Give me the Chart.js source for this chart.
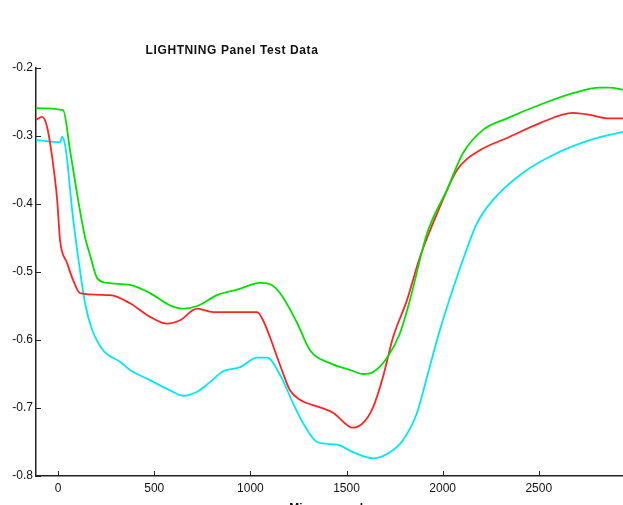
<!DOCTYPE html>
<html>
<head>
<meta charset="utf-8">
<script src="https://cdn.jsdelivr.net/npm/chart.js@4/dist/chart.umd.min.js"></script>
<style>
  html, body { margin: 0; padding: 0; background: #fff; overflow: hidden; }
  canvas { display: block; }
</style>
</head>
<body>
<canvas id="lightning-chart" width="623" height="516"></canvas>
<script>
// data (microseconds, volts)

const chartTitle = 'LIGHTNING Panel Test Data';
const xTitle = 'Microseconds';
const xTicks = [0, 500, 1000, 1500, 2000, 2500];
const yTicks = [-0.2, -0.3, -0.4, -0.5, -0.6, -0.7, -0.8];

const greenTime = [-114, 26, 62, 104, 140, 166, 203, 255, 374, 478, 582, 650, 723, 827, 931, 1050, 1102, 1154, 1243, 1310, 1414, 1518, 1586, 1638, 1711, 1778, 1830, 1919, 2023, 2106, 2210, 2335, 2506, 2678, 2818, 2870, 2938];
const greenVal = [-0.259, -0.262, -0.321, -0.394, -0.449, -0.475, -0.509, -0.516, -0.519, -0.531, -0.549, -0.554, -0.550, -0.534, -0.526, -0.516, -0.518, -0.531, -0.575, -0.615, -0.634, -0.644, -0.650, -0.647, -0.626, -0.590, -0.541, -0.443, -0.379, -0.325, -0.291, -0.274, -0.254, -0.237, -0.229, -0.229, -0.232];

const redTime = [-114, -83, -57, -31, -5, 10, 47, 78, 114, 270, 374, 478, 567, 634, 723, 806, 946, 1035, 1066, 1102, 1139, 1170, 1206, 1258, 1362, 1430, 1534, 1586, 1638, 1690, 1742, 1815, 1882, 1986, 2075, 2194, 2335, 2506, 2678, 2766, 2855, 2938];
const redVal = [-0.276, -0.272, -0.287, -0.331, -0.394, -0.453, -0.487, -0.512, -0.531, -0.534, -0.546, -0.566, -0.576, -0.571, -0.554, -0.559, -0.559, -0.559, -0.571, -0.596, -0.625, -0.649, -0.674, -0.688, -0.699, -0.707, -0.729, -0.722, -0.699, -0.654, -0.596, -0.541, -0.478, -0.404, -0.350, -0.321, -0.303, -0.281, -0.266, -0.269, -0.274, -0.274];

const cyanTime = [-114, 10, 21, 36, 47, 73, 104, 140, 177, 234, 322, 374, 478, 582, 650, 723, 790, 858, 946, 1035, 1087, 1154, 1222, 1274, 1347, 1451, 1534, 1638, 1726, 1794, 1867, 1919, 1986, 2075, 2179, 2262, 2418, 2595, 2766, 2938];
const cyanVal = [-0.306, -0.309, -0.301, -0.313, -0.335, -0.409, -0.478, -0.546, -0.585, -0.615, -0.632, -0.644, -0.659, -0.674, -0.682, -0.676, -0.662, -0.646, -0.640, -0.626, -0.626, -0.651, -0.693, -0.722, -0.750, -0.754, -0.765, -0.774, -0.765, -0.747, -0.707, -0.654, -0.585, -0.507, -0.428, -0.394, -0.354, -0.325, -0.306, -0.294];

const labelFont = '"Liberation Sans", Arial, sans-serif';

function toPoints(times, vals) {
    return times.map((t, i) => ({ x: t, y: vals[i] }));
}

function makeSet(label, times, vals, color) {
    return {
        label: label,
        data: toPoints(times, vals),
        borderColor: color,
        borderWidth: 1.8,
        pointRadius: 0,
        showLine: true,
        cubicInterpolationMode: 'monotone',
        fill: false
    };
}

// MATLAB style: ticks point into the plot
const innerTicks = {
    id: 'innerTicks',
    afterDraw(chart) {
        const { ctx, chartArea, scales } = chart;
        ctx.save();
        ctx.strokeStyle = '#222';
        ctx.lineWidth = 1;
        ctx.beginPath();
        xTicks.forEach(v => {
            const px = Math.round(scales.x.getPixelForValue(v)) + 0.5;
            ctx.moveTo(px, chartArea.bottom);
            ctx.lineTo(px, chartArea.bottom - 5);
        });
        yTicks.forEach(v => {
            const py = Math.round(scales.y.getPixelForValue(v)) + 0.5;
            ctx.moveTo(chartArea.left, py);
            ctx.lineTo(chartArea.left + 5, py);
        });
        ctx.stroke();
        ctx.restore();
    }
};

const topTitle = {
    id: 'topTitle',
    afterDraw(chart) {
        const ctx = chart.ctx;
        ctx.save();
        ctx.fillStyle = '#111';
        ctx.font = 'bold 12px ' + labelFont;
        ctx.letterSpacing = '0.6px';
        ctx.textAlign = 'center';
        ctx.textBaseline = 'middle';
        ctx.fillText(chartTitle, 232, 51);
        ctx.restore();
    }
};

const ctx = document.getElementById('lightning-chart');

new Chart(ctx, {
    type: 'scatter',
    data: {
        datasets: [
            makeSet('green', greenTime, greenVal, 'rgb(0, 225, 0)'),
            makeSet('red', redTime, redVal, 'rgb(255, 35, 35)'),
            makeSet('cyan', cyanTime, cyanVal, 'rgb(0, 232, 242)')
        ]
    },
    options: {
        responsive: false,
        animation: false,
        layout: { padding: { top: 68, right: 0, left: 0, bottom: 0 } },
        plugins: {
            legend: { display: false },
            tooltip: { enabled: false }
        },
        scales: {
            x: {
                type: 'linear',
                min: -115,
                max: 2938,
                afterBuildTicks: axis => { axis.ticks = xTicks.map(v => ({ value: v })); },
                afterFit: axis => { axis.height = 40; },
                grid: { display: false, drawTicks: false },
                border: { display: true, color: '#222', width: 1.5 },
                ticks: {
                    color: '#111',
                    padding: 5,
                    maxRotation: 0,
                    callback: v => String(v),
                    font: { family: labelFont, size: 12 }
                },
                title: {
                    display: true,
                    text: xTitle,
                    color: '#111',
                    padding: { top: 0, bottom: 0 },
                    font: { family: labelFont, size: 12, weight: 'bold' }
                }
            },
            y: {
                type: 'linear',
                min: -0.8,
                max: -0.2,
                afterBuildTicks: axis => { axis.ticks = yTicks.map(v => ({ value: v })); },
                afterFit: axis => { axis.width = 36; },
                grid: { display: false, drawTicks: false },
                border: { display: true, color: '#222', width: 1.5 },
                ticks: {
                    color: '#111',
                    padding: 3,
                    callback: v => v.toFixed(1),
                    font: { family: labelFont, size: 12 }
                }
            }
        }
    },
    plugins: [innerTicks, topTitle]
});
</script>
</body>
</html>
